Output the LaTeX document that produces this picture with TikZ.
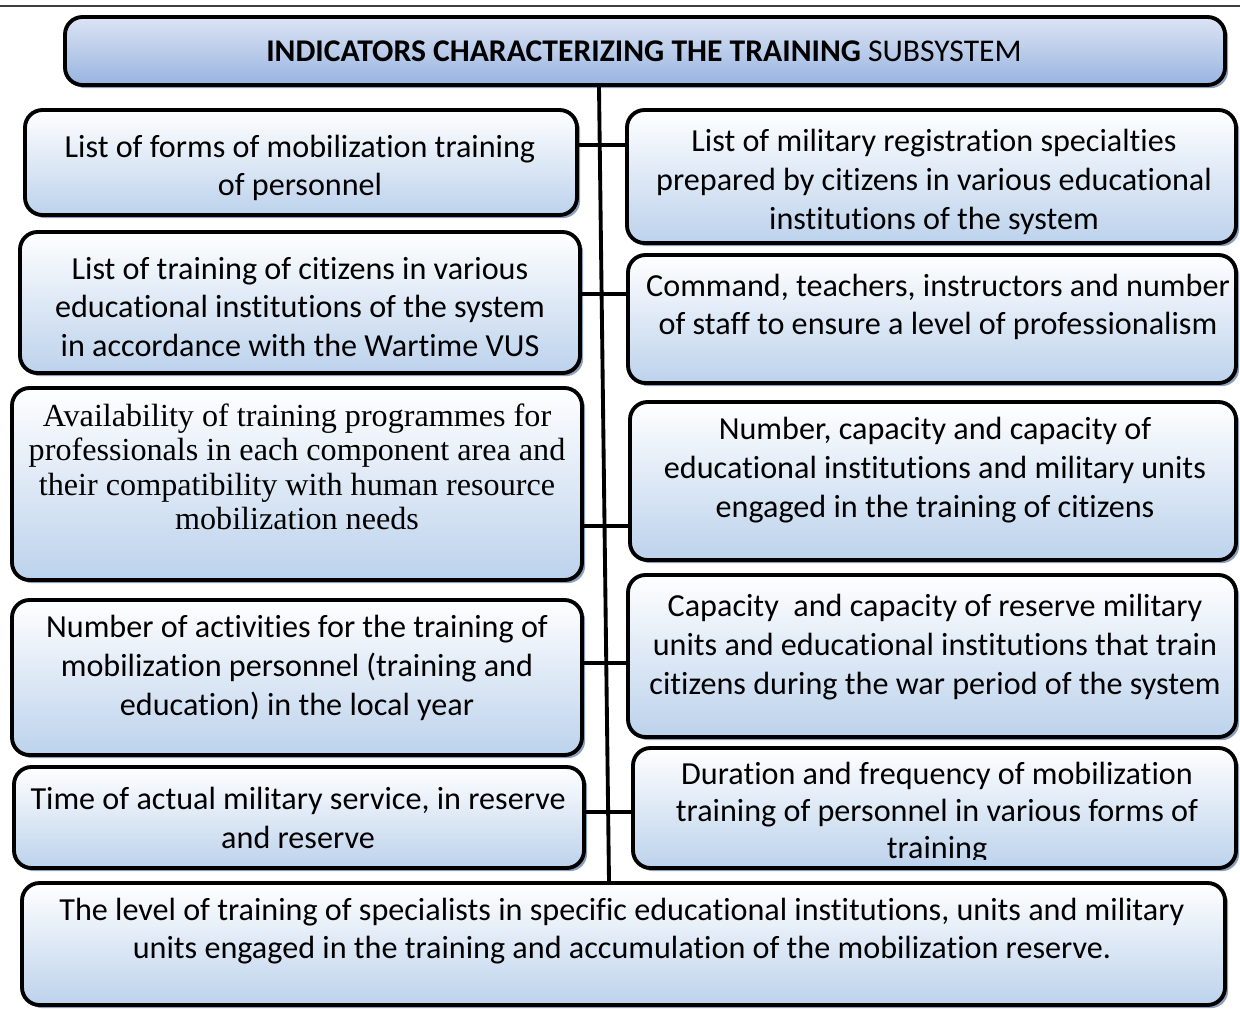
\documentclass[tikz,border=0pt]{standalone}
\usepackage{fontspec}
\setmainfont{Carlito}[Ligatures=NoCommon]
\newfontfamily\timesfont{Liberation Serif}
\usetikzlibrary{fit,shadows}

\definecolor{boxblue}{RGB}{188,210,236}
\definecolor{headtop}{RGB}{220,228,244}
\definecolor{headbot}{RGB}{152,180,224}
\definecolor{shadowblue}{RGB}{140,160,190}

\tikzset{
    box/.style={draw, line width=2.2pt, rounded corners=0.35cm, inner sep=0,
        top color=white, bottom color=boxblue,
        drop shadow={shadow xshift=1.8pt, shadow yshift=-1.8pt, fill=shadowblue, opacity=1}},
    headbox/.style={box, top color=headtop, bottom color=headbot},
    txt/.style={align=center, inner sep=0, font=\fontsize{18.3}{22.1}\selectfont},
    sertxt/.style={align=center, inner sep=0, font=\timesfont\fontsize{18.3}{19.6}\selectfont},
    link/.style={line width=2.2pt}
}

\begin{document}
\begin{tikzpicture}[x=0.02cm, y=-0.02cm]
    \useasboundingbox (0,0) rectangle (1240,1008);
    \draw[line width=0.7pt, black!75] (0,6) -- (1240,6);

    % boxes
    \node[headbox, fit={(65,17) (1225,85)}] (head) {};
    \node[box, fit={(25,110) (577,215)}] (L1) {};
    \node[box, fit={(20,232) (580,373)}] (L2) {};
    \node[box, fit={(12,388) (582,580)}] (L3) {};
    \node[box, fit={(12,600) (582,755)}] (L4) {};
    \node[box, fit={(14,767) (584,868)}] (L5) {};
    \node[box, fit={(627,110) (1236,243)}] (R1) {};
    \node[box, fit={(628,255) (1236,383)}] (R2) {};
    \node[box, fit={(630,402) (1236,560)}] (R3) {};
    \node[box, fit={(628,575) (1236,737)}] (R4) {};
    \node[box, fit={(633,748) (1236,868)}] (R5) {};
    \node[box, fit={(22,883) (1225,1005)}] (bottom) {};

    % trunk and links
    \coordinate (trunkA) at (599,85);
    \coordinate (trunkB) at (609,883);
    \draw[link] (head.south -| trunkA) -- (bottom.north -| trunkB);
    \draw[link] (L1.east |- 0,145) -- (R1.west |- 0,145);
    \draw[link] (L2.east |- 0,294) -- (R2.west |- 0,294);
    \draw[link] (L3.east |- 0,526) -- (R3.west |- 0,526);
    \draw[link] (L4.east |- 0,663) -- (R4.west |- 0,663);
    \draw[link] (L5.east |- 0,812) -- (R5.west |- 0,812);

    % texts
    \node[txt, font=\fontsize{18}{20}\selectfont] (headtext) at (644,51)
        {\textbf{INDICATORS CHARACTERIZING THE TRAINING} SUBSYSTEM};
    \node[txt] (t1) at (300,168) {List of forms of mobilization training\\of personnel};
    \node[txt] (t2) at (300,307) {List of training of citizens in various\\educational institutions of the system\\in accordance with the Wartime VUS};
    \node[sertxt] (t3) at (297,467) {Availability of training programmes for\\professionals in each component area and\\their compatibility with human resource\\mobilization needs};
    \node[txt] (t4) at (297,668) {Number of activities for the training of\\mobilization personnel (training and\\education) in the local year};
    \node[txt] (t5) at (298,818) {Time of actual military service, in reserve\\and reserve};
    \node[txt] (t6) at (934,182) {List of military registration specialties\\prepared by citizens in various educational\\institutions of the system};
    \node[txt] (t7) at (938,307) {Command, teachers, instructors and number\\of staff to ensure a level of professionalism};
    \node[txt] (t8) at (935,470) {Number, capacity and capacity of\\educational institutions and military units\\engaged in the training of citizens};
    \node[txt] (t9) at (935,647) {Capacity\ \ and capacity of reserve military\\units and educational institutions that train\\citizens during the war period of the system};
    \begin{scope}
        \clip (633,748) rectangle (1236,859);
        \node[txt, font=\fontsize{18.3}{21.2}\selectfont] (t10) at (937,813) {Duration and frequency of mobilization\\training of personnel in various forms of\\training};
    \end{scope}
    \node[txt] (t11) at (622,931) {The level of training of specialists in specific educational institutions, units and military\\units engaged in the training and accumulation of the mobilization reserve.};
\end{tikzpicture}
\end{document}
